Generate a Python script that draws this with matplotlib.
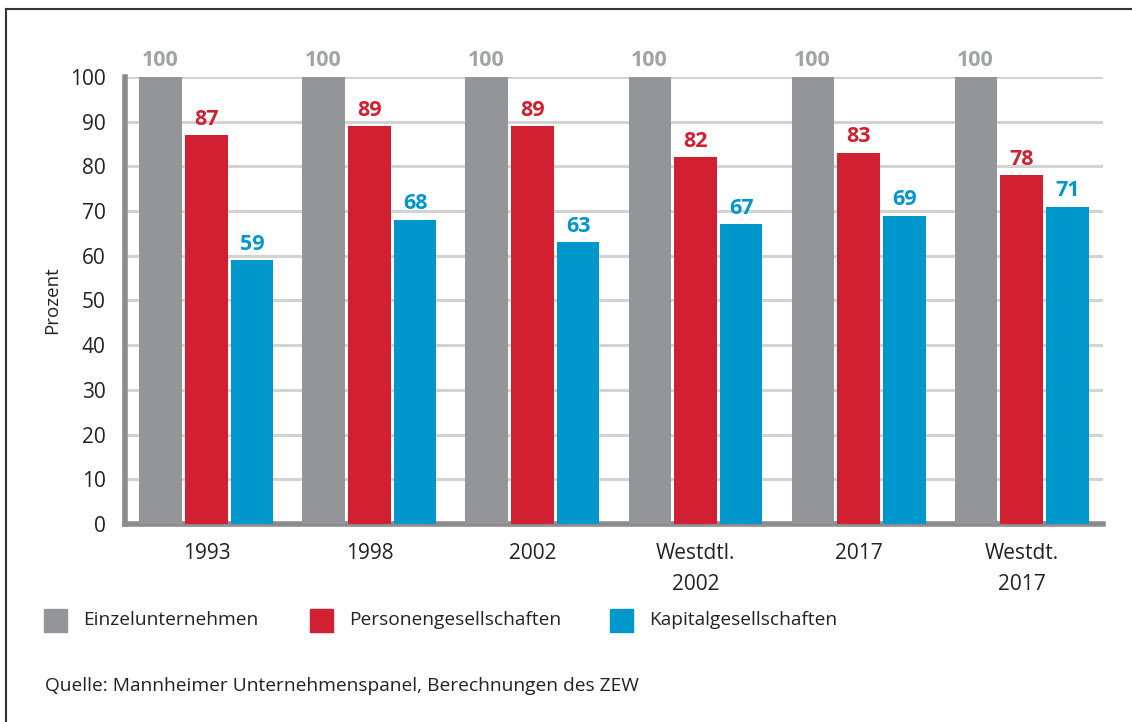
import numpy as np
import matplotlib.pyplot as plt
from matplotlib.patches import Rectangle
from matplotlib.lines import Line2D

plt.rcParams['font.family'] = ['Open Sans', 'DejaVu Sans']

gruppen = ["1993", "1998", "2002", "Westdtl.\n2002", "2017", "Westdt.\n2017"]
einzel = [100, 100, 100, 100, 100, 100]
personen = [87, 89, 89, 82, 83, 78]
kapital = [59, 68, 63, 67, 69, 71]
serien = ["Einzelunternehmen", "Personengesellschaften", "Kapitalgesellschaften"]
farben = ["#939598", "#D12031", "#0098CC"]
label_farben = ["#A2A3A6", "#D12031", "#0098CC"]

fig = plt.figure(figsize=(11.32, 7.22), dpi=100)
ax = fig.add_axes([0.1104, 0.2742, 0.8640, 0.6192])

x = np.arange(len(gruppen))
w = 0.258
off = 0.282
for i, werte in enumerate([einzel, personen, kapital]):
    pos = x + (i - 1) * off
    ax.bar(pos, werte, width=w, color=farben[i], zorder=3)
    for p, v in zip(pos, werte):
        ax.annotate(str(v), (p, v), xytext=(0, 4), textcoords="offset points",
                    ha="center", va="bottom", fontsize=15.5, fontweight="bold",
                    color=label_farben[i])

ax.set_xlim(-0.5, 5.5)
ax.set_ylim(0, 100)
ax.set_yticks(range(0, 101, 10))
ax.set_xticks(x)
ax.set_xticklabels(gruppen, linespacing=1.6)
ax.tick_params(axis="both", length=0, labelsize=15, colors="#222222")
ax.tick_params(axis="x", pad=14)
ax.tick_params(axis="y", pad=14)
ax.grid(axis="y", color="#D3D3D3", linewidth=2.2, zorder=0)
for s in ["top", "right"]:
    ax.spines[s].set_visible(False)
for s in ["left", "bottom"]:
    ax.spines[s].set_color("#8C8C8E")
    ax.spines[s].set_linewidth(4)
ax.set_ylabel("Prozent", fontsize=13.5, color="#222222", labelpad=6)

# Legende
leg_x = [44, 310, 610]
for i, name in enumerate(serien):
    fig.patches.append(Rectangle((leg_x[i] / 1132, 1 - 632 / 722), 23 / 1132, 23 / 722,
                                 transform=fig.transFigure, color=farben[i]))
    fig.text((leg_x[i] + 39) / 1132, 1 - 620 / 722, name, fontsize=13.8,
             color="#222222", va="center")

fig.text(45 / 1132, 1 - 686 / 722,
         "Quelle: Mannheimer Unternehmenspanel, Berechnungen des ZEW",
         fontsize=13.8, color="#222222", va="center")

# Rahmen links und oben
fig.add_artist(Line2D([6 / 1132, 6 / 1132], [0, 1 - 9 / 722], transform=fig.transFigure,
                      color="#333333", linewidth=1.5))
fig.add_artist(Line2D([6 / 1132, 1], [1 - 9 / 722, 1 - 9 / 722], transform=fig.transFigure,
                      color="#333333", linewidth=1.5))

fig.savefig("out.png", dpi=100)
